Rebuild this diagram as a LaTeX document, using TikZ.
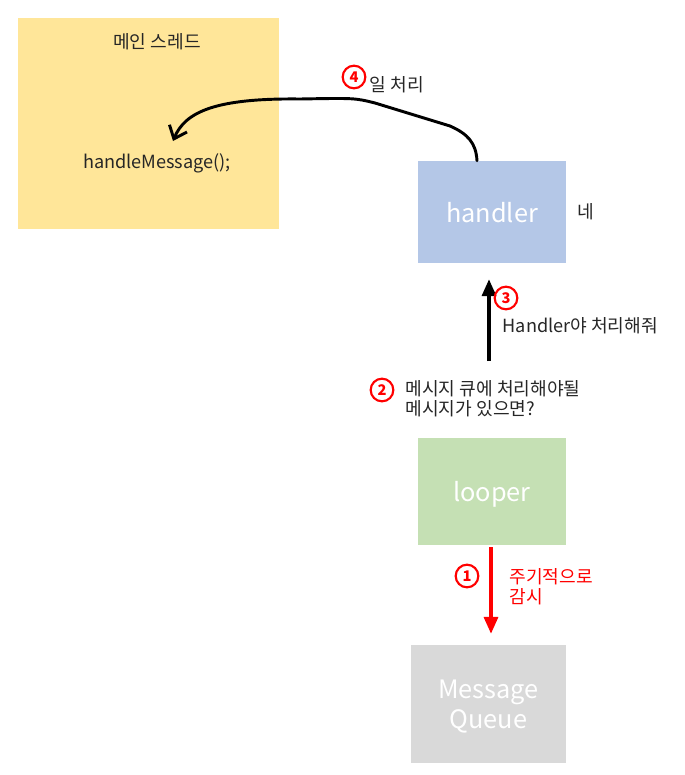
\documentclass[tikz,border=0pt]{standalone}
\usepackage{fontspec}
\setmainfont{Noto Sans CJK KR}
\usepackage{tikz}
\usetikzlibrary{arrows.meta,positioning,calc}
\definecolor{mainyellow}{RGB}{255,230,153}
\definecolor{handlerblue}{RGB}{180,199,231}
\definecolor{loopergreen}{RGB}{197,224,180}
\definecolor{queuegrey}{RGB}{217,217,217}
\definecolor{inktext}{RGB}{38,38,38}
\definecolor{markred}{RGB}{255,0,0}
\tikzset{
  base/.style={font=\fontsize{13.6}{15}\selectfont, align=left, inner sep=1pt, text=inktext},
  block/.style={rectangle, draw=none, inner sep=0pt, text=white, text depth=0pt, font=\fontsize{19}{22}\selectfont, align=center},
  numcirc/.style={circle, draw=markred, line width=1.6pt, text=markred, inner sep=0pt, minimum size=17pt, font=\fontsize{11}{11}\selectfont\bfseries},
  arr/.style={-{Triangle[length=4.5mm,width=3.6mm]}, line width=3pt},
  arrc/.style={-{Straight Barb[length=3mm,width=5mm]}, line width=2.2pt, line cap=round},
}
\begin{document}
\begin{tikzpicture}[x=0.75pt,y=-0.75pt]
  \useasboundingbox (0,0) rectangle (685,775);
  % boxes
  \fill[mainyellow] (18,18) rectangle (279,229);
  \node[base] (title) at (157,42) {메인 스레드};
  \node[base] (hm) at (157,163) {handleMessage();};
  \node[block, fill=handlerblue, minimum width=111pt, minimum height=76.5pt] (handler) at (492,212) {handler};
  \node[block, fill=loopergreen, minimum width=111pt, minimum height=80pt] (looper) at (492,491.5) {looper};
  \node[block, fill=queuegrey, minimum width=116pt, minimum height=88pt, font=\fontsize{19}{22.5}\selectfont] (queue) at (488.5,704) {Message\\Queue};
  \node[base] (ne) at (586,212) {네};
  % step 1
  \coordinate (qtop) at (491,634);
  \draw[arr, draw=markred] (looper.south -| qtop) ++(0,2) -- (qtop);
  \node[numcirc] (n1) at (467,576) {1};
  \node[base, text=markred, anchor=west] (watch) at (508,587) {주기적으로\\감시};
  % step 2
  \node[numcirc] (n2) at (382,390) {2};
  \node[base, anchor=west] (ask) at (404,399) {메시지 큐에 처리해야될\\메시지가 있으면?};
  % step 3
  \coordinate (up0) at (489,361);
  \coordinate (up1) at (489,279);
  \draw[arr] (up0) -- (up1);
  \node[numcirc] (n3) at (506,298) {3};
  \node[base, anchor=west] (call) at (501,326) {Handler야 처리해줘};
  % step 4
  \node[numcirc] (n4) at (354,77) {4};
  \node[base, anchor=west] (work) at (368,85) {일 처리};
  \coordinate (tip) at (173,141);
  \draw[arrc] (handler.north -| 477,0) .. controls (476,143) and (468,134) .. (450,126)
    -- (375,103) .. controls (355,98) .. (300,99)
    .. controls (215,98) and (185,112) .. (tip);
\end{tikzpicture}
\end{document}
